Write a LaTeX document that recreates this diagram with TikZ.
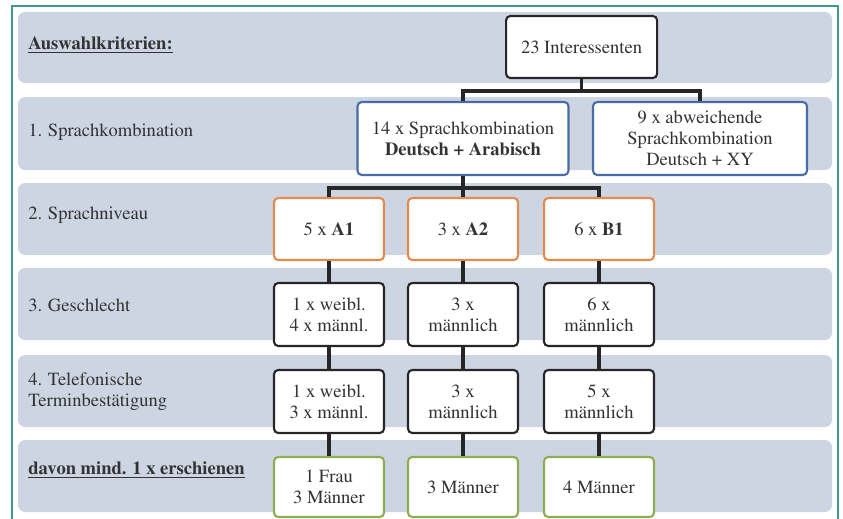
\documentclass[tikz,border=0pt]{standalone}
\usepackage[T1]{fontenc}
\usepackage{times}
\usetikzlibrary{positioning, calc}
\definecolor{streifen}{RGB}{205,213,227}
\definecolor{rahmentuerkis}{RGB}{62,152,152}
\definecolor{rahmenblau}{RGB}{72,108,168}
\definecolor{rahmenorange}{RGB}{226,138,80}
\definecolor{rahmengruen}{RGB}{140,174,82}

\begin{document}
\begin{tikzpicture}[
  font=\rmfamily\fontsize{13.2}{14.8}\selectfont,
  kasten/.style={draw=black!85, line width=1.5pt, fill=white, rounded corners=3pt,
                 align=center, inner sep=2pt, text=black!80,
                 minimum width=2.75cm, minimum height=1.575cm},
  sprache/.style={kasten, draw=rahmenblau, minimum height=1.825cm},
  niveau/.style={kasten, draw=rahmenorange, minimum height=1.55cm},
  ergebnis/.style={kasten, draw=rahmengruen, minimum height=1.5cm},
  verbindung/.style={draw=black!85, line width=2.5pt},
  kriterium/.style={anchor=west, align=left, inner sep=0pt, text=black!80}
]

\useasboundingbox (0,0) rectangle (21.075,12.95);

% ---- graue Streifen fuer die Auswahlkriterien ----------------------
\foreach \oben/\unten in {12.65/10.875, 10.525/8.7, 8.375/6.575,
                          6.25/4.45, 4.075/2.275, 1.95/0.15}
  \fill[streifen, rounded corners=5pt] (0.45,\unten) rectangle (20.8,\oben);

% ---- Kriterien links -----------------------------------------------
\node[kriterium] (k0) at (0.7,11.825) {\textbf{\underline{Auswahlkriterien:}}};
\node[kriterium] (k1) at (0.7,9.65)   {1. Sprachkombination};
\node[kriterium] (k2) at (0.7,7.575)  {2. Sprachniveau};
\node[kriterium] (k3) at (0.7,5.325)  {3. Geschlecht};
\node[kriterium] (k4) at (0.7,3.15)   {4. Telefonische\\Terminbestätigung};
\node[kriterium] (k5) at (0.7,1.2)    {\textbf{\underline{davon mind. 1 x erschienen}}};

% ---- Kaesten ---------------------------------------------------------
\node[kasten, minimum width=3.775cm, minimum height=1.55cm] (n23) at (14.54,11.775) {23 Interessenten};

\node[sprache, minimum width=5.275cm] (n14) at (11.575,9.4875)
  {14 x Sprachkombination\\\textbf{Deutsch + Arabisch}};
\node[sprache, minimum width=5.35cm]  (n9)  at (17.5,9.4875)
  {9 x abweichende\\Sprachkombination\\Deutsch + XY};

\node[niveau] (a1) at (8.225,7.225)  {5 x \textbf{A1}};
\node[niveau] (a2) at (11.575,7.225) {3 x \textbf{A2}};
\node[niveau] (b1) at (14.975,7.225) {6 x \textbf{B1}};

\node[kasten] (g1) at (8.225,5.0875)  {1 x weibl.\\4 x männl.};
\node[kasten] (g2) at (11.575,5.0875) {3 x\\männlich};
\node[kasten] (g3) at (14.975,5.0875) {6 x\\männlich};

\node[kasten] (t1) at (8.225,2.9125)  {1 x weibl.\\3 x männl.};
\node[kasten] (t2) at (11.575,2.9125) {3 x\\männlich};
\node[kasten] (t3) at (14.975,2.9125) {5 x\\männlich};

\node[ergebnis] (e1) at (8.225,0.775)  {1 Frau\\3 Männer};
\node[ergebnis] (e2) at (11.575,0.775) {3 Männer};
\node[ergebnis] (e3) at (14.975,0.775) {4 Männer};

% ---- Verbindungen ----------------------------------------------------
\draw[verbindung] (n23.south) -- ++(0,-0.3) -| (n14.north);
\draw[verbindung] (n23.south) -- ++(0,-0.3) -| (n9.north);
\draw[verbindung] (n14.south) -- ++(0,-0.3) -| (a1.north);
\draw[verbindung] (n14.south) -- ++(0,-0.3) -| (b1.north);
\draw[verbindung] (n14.south) -- (a2.north);

\foreach \oben/\unten in {a1/g1, a2/g2, b1/g3, g1/t1, g2/t2, g3/t3, t1/e1, t2/e2, t3/e3}
  \draw[verbindung] (\oben.south) -- (\unten.north);

% ---- Rahmen (unten abgeschnitten) -----------------------------------
\draw[rahmentuerkis, line width=1.3pt] (0.3,-0.2) -- (0.3,12.8) -- (20.95,12.8) -- (20.95,-0.2);

\end{tikzpicture}
\end{document}
